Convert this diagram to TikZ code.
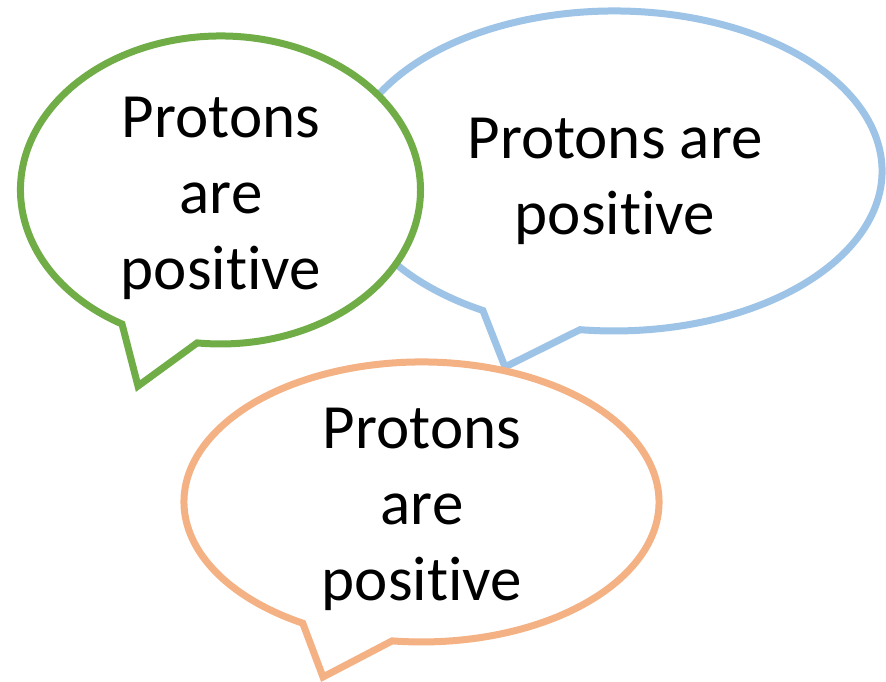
\documentclass[tikz,border=0pt]{standalone}
\usepackage{fontspec}
\setmainfont[Ligatures=NoCommon]{Carlito}
\definecolor{bgreen}{HTML}{70AD47}
\definecolor{bblue}{HTML}{9DC3E6}
\definecolor{borange}{HTML}{F4B183}
\begin{document}
\begin{tikzpicture}[x=1pt,y=-1pt,
  bubble/.style={line width=7pt, fill=white, line join=miter},
  bubbletext/.style={font=\fontsize{63}{76}\selectfont, align=center, anchor=base, inner sep=0pt, text=black}]
\useasboundingbox (0,0) rectangle (886,682);
% blue bubble (back)
\draw[bubble, draw=bblue] (505,367) -- (482.9,310.5)
  arc[start angle=119.3, end angle=457.3, x radius=268, y radius=160] -- cycle;
\node[bubbletext] (btext) at (615,234) {Protons are\\positive};
% green bubble
\draw[bubble, draw=bgreen] (138,386) -- (122.0,324.0)
  arc[start angle=119.5, end angle=456.7, x radius=200, y radius=154] -- cycle;
\node[bubbletext] (gtext) at (221,289) {Protons\\are\\positive};
% orange bubble (front)
\draw[bubble, draw=borange] (323,677) -- (302.75,623.2)
  arc[start angle=120, end angle=457.1, x radius=237.5, y radius=140] -- cycle;
\node[bubbletext] (otext) at (422,600) {Protons\\are\\positive};
\end{tikzpicture}
\end{document}
